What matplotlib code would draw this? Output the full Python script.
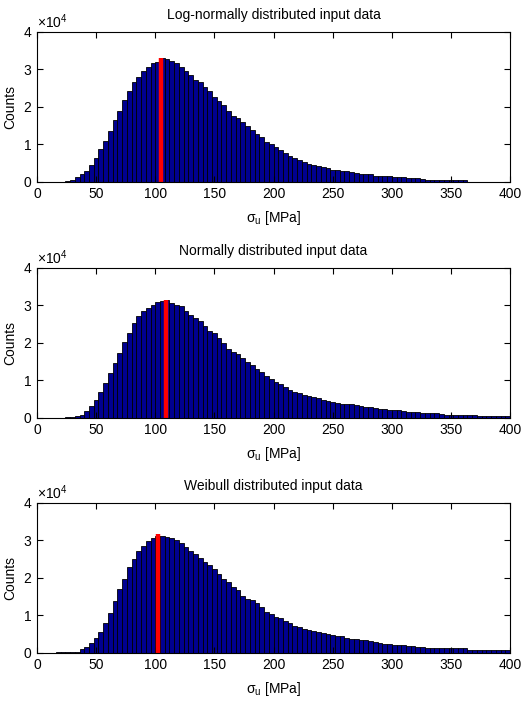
import numpy as np
import matplotlib
matplotlib.use('Agg')
import matplotlib.pyplot as plt
from matplotlib.ticker import ScalarFormatter

plt.rcParams['font.family'] = ['Liberation Sans', 'DejaVu Sans']
plt.rcParams['font.size'] = 10
plt.rcParams['mathtext.fontset'] = 'custom'
plt.rcParams['mathtext.rm'] = 'Liberation Sans'
plt.rcParams['mathtext.it'] = 'Liberation Sans'

# bin edges: 100 bins of 4 MPa from 0 to 400
bin_width = 4
bin_left = np.arange(0, 400, bin_width)

# counts per bin, in units of 1e4
lognormal_counts = [
    0, 0, 0, 0, 0.01, 0.01, 0.02, 0.05, 0.13, 0.20,
    0.30, 0.45, 0.65, 0.88, 1.10, 1.37, 1.65, 1.90, 2.18, 2.41,
    2.65, 2.80, 2.96, 3.07, 3.16, 3.20, 3.29, 3.27, 3.23, 3.16,
    3.06, 2.95, 2.86, 2.72, 2.65, 2.52, 2.42, 2.27, 2.17, 2.04,
    1.90, 1.77, 1.71, 1.59, 1.48, 1.38, 1.28, 1.19, 1.06, 1.00,
    0.93, 0.86, 0.78, 0.70, 0.64, 0.58, 0.52, 0.49, 0.46, 0.43,
    0.39, 0.36, 0.33, 0.31, 0.29, 0.28, 0.26, 0.24, 0.22, 0.21,
    0.20, 0.17, 0.16, 0.16, 0.15, 0.13, 0.13, 0.12, 0.11, 0.10,
    0.10, 0.09, 0.06, 0.06, 0.06, 0.06, 0.05, 0.05, 0.05, 0.05,
    0.05, 0, 0, 0, 0, 0, 0, 0, 0, 0,
]
normal_counts = [
    0, 0, 0, 0, 0, 0.01, 0.02, 0.03, 0.05, 0.09,
    0.18, 0.32, 0.47, 0.70, 0.92, 1.21, 1.46, 1.72, 2.02, 2.26,
    2.53, 2.71, 2.84, 2.93, 3.02, 3.08, 3.12, 3.13, 3.06, 3.02,
    2.97, 2.86, 2.73, 2.66, 2.57, 2.44, 2.32, 2.26, 2.13, 1.99,
    1.84, 1.77, 1.70, 1.59, 1.50, 1.41, 1.30, 1.23, 1.12, 1.05,
    0.97, 0.90, 0.82, 0.75, 0.70, 0.66, 0.62, 0.58, 0.55, 0.52,
    0.49, 0.46, 0.43, 0.40, 0.38, 0.37, 0.36, 0.34, 0.32, 0.30,
    0.28, 0.26, 0.25, 0.24, 0.22, 0.21, 0.20, 0.19, 0.17, 0.16,
    0.16, 0.14, 0.13, 0.12, 0.12, 0.10, 0.09, 0.09, 0.08, 0.08,
    0.08, 0.07, 0.07, 0.06, 0.06, 0.06, 0.05, 0.05, 0.05, 0.05,
]
weibull_counts = [
    0, 0, 0, 0, 0.02, 0.02, 0.02, 0.02, 0.03, 0.10,
    0.16, 0.27, 0.39, 0.55, 0.80, 1.07, 1.38, 1.70, 1.98, 2.28,
    2.50, 2.71, 2.84, 2.99, 3.05, 3.12, 3.11, 3.10, 3.07, 3.02,
    2.92, 2.81, 2.72, 2.63, 2.52, 2.43, 2.34, 2.23, 2.10, 1.98,
    1.88, 1.76, 1.68, 1.52, 1.45, 1.40, 1.32, 1.22, 1.10, 1.03,
    0.97, 0.92, 0.86, 0.79, 0.72, 0.69, 0.65, 0.61, 0.58, 0.55,
    0.52, 0.50, 0.48, 0.45, 0.44, 0.41, 0.38, 0.36, 0.35, 0.34,
    0.31, 0.29, 0.27, 0.25, 0.24, 0.22, 0.21, 0.20, 0.18, 0.18,
    0.16, 0.15, 0.14, 0.13, 0.12, 0.12, 0.12, 0.12, 0.12, 0.12,
    0.12, 0.07, 0.07, 0.07, 0.07, 0.07, 0.07, 0.07, 0.07, 0.07,
]

titles = ['Log-normally distributed input data',
          'Normally distributed input data',
          'Weibull distributed input data']
all_counts = [lognormal_counts, normal_counts, weibull_counts]
# red marker line: position (MPa) and height (1e4 counts)
mode_x = [104.5, 108.8, 102.5]
mode_h = [3.29, 3.13, 3.17]

fig = plt.figure(figsize=(5.28, 7.10), dpi=100)
bottoms = [0.7437, 0.4113, 0.0803]

for k in range(3):
    ax = fig.add_axes([0.070, bottoms[k], 0.896, 0.2115])
    counts = np.array(all_counts[k]) * 1e4
    ax.bar(bin_left, counts, width=bin_width, align='edge',
           color='#000090', edgecolor='black', linewidth=0.6)
    ax.plot([mode_x[k], mode_x[k]], [0, mode_h[k] * 1e4],
            color='#ff0000', linewidth=3.2, solid_capstyle='butt')
    ax.set_xlim(0, 400)
    ax.set_ylim(0, 4e4)
    ax.set_xticks(np.arange(0, 401, 50))
    ax.set_yticks(np.arange(0, 4.01e4, 1e4))
    fmt = ScalarFormatter(useMathText=True)
    fmt.set_powerlimits((0, 0))
    ax.yaxis.set_major_formatter(fmt)
    ax.tick_params(direction='in', top=True, right=True, length=4, width=0.8,
                   labelsize=10)
    for s in ax.spines.values():
        s.set_linewidth(0.8)
    ax.set_title(titles[k], fontsize=10, pad=9)
    ax.set_xlabel(r'$\sigma_\mathrm{u}$ [MPa]', fontsize=10, labelpad=6)
    ax.set_ylabel('Counts', fontsize=10, labelpad=4)

plt.savefig('out.png', dpi=100)
